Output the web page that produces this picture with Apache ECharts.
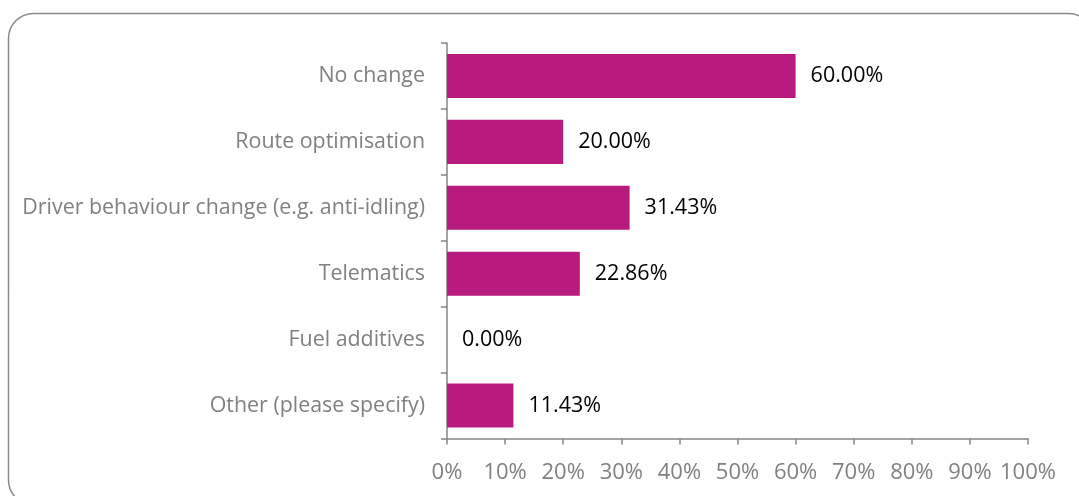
<!DOCTYPE html>
<html><head><meta charset="utf-8">
<script src="https://cdn.jsdelivr.net/npm/echarts@6/dist/echarts.min.js"></script>
<style>html,body{margin:0;padding:0;background:#fff}#c{width:1079px;height:496px}</style>
</head><body><div id="c"></div>
<script>
const categories = ["No change","Route optimisation","Driver behaviour change (e.g. anti-idling)","Telematics","Fuel additives","Other (please specify)"];
const values = [60.00, 20.00, 31.43, 22.86, 0.00, 11.43];
const xTicks = [0,10,20,30,40,50,60,70,80,90,100];

const chart = echarts.init(document.getElementById('c'), null, {renderer:'canvas'});
chart.setOption({
  animation:false,
  backgroundColor:'#fff',
  graphic:[{type:'rect', shape:{x:8.5,y:13.5,width:1085,height:491.5,r:25}, style:{fill:'none',stroke:'#8a8a8a',lineWidth:1.5}, silent:true}],
  grid:{left:447,right:51,top:43,bottom:57.5,containLabel:false},
  xAxis:{type:'value',min:0,max:100,interval:10,
    axisLine:{show:true,lineStyle:{color:'#868686',width:1.5}},
    axisTick:{show:true,length:6,lineStyle:{color:'#868686',width:1.5}},
    splitLine:{show:false},
    axisLabel:{color:'#808080',fontFamily:'Open Sans',fontSize:22,margin:23,formatter:v=>v+'%'}},
  yAxis:{type:'category',data:categories,inverse:true,
    axisLine:{show:true,lineStyle:{color:'#868686',width:1.5}},
    axisTick:{show:true,inside:false,length:6,alignWithLabel:false,lineStyle:{color:'#868686',width:1.5}},
    axisLabel:{color:'#808080',fontFamily:'Open Sans',fontSize:21.4,margin:22}},
  series:[{type:'bar',data:values,barCategoryGap:'33%',
    itemStyle:{color:'#B91A7E'},
    label:{show:true,position:'right',distance:15,color:'#000',fontFamily:'Open Sans',fontSize:21.5,formatter:p=>p.value.toFixed(2)+'%'}}]
});
</script></body></html>
